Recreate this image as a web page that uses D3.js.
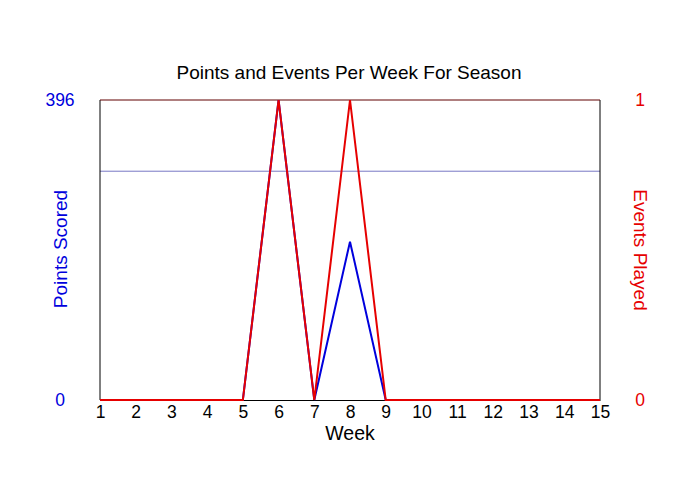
<!DOCTYPE html>
<html>
<head>
<meta charset="utf-8">
<script src="https://cdn.jsdelivr.net/npm/d3@7"></script>
<style>
  body { margin:0; background:#fff; }
  svg text { font-family: "Liberation Sans", Arial, sans-serif; }
</style>
</head>
<body>
<div id="chart"></div>
<script>
/* dual-axis weekly line chart */
const weeks  = [1,2,3,4,5,6,7,8,9,10,11,12,13,14,15];
const points = [0,0,0,0,0,396,0,209,0,0,0,0,0,0,0];
const events = [0,0,0,0,0,1,0,1,0,0,0,0,0,0,0];
const pointsTicks = [0,396];
const eventsTicks = [0,1];
const refLine = 302;   // horizontal reference on the points axis

const W = 700, H = 500, M = {top:100,right:100,bottom:100,left:100},
      IW = W-M.left-M.right, IH = H-M.top-M.bottom;

const BLUE = "#0000dd", RED = "#e60000";

const svg = d3.select("#chart").append("svg")
  .attr("width", W).attr("height", H);
const g = svg.append("g").attr("transform", `translate(${M.left},${M.top})`);

const x  = d3.scaleLinear().domain([1,15]).range([0,IW]);
const yL = d3.scaleLinear().domain([0,396]).range([IH,0]);
const yR = d3.scaleLinear().domain([0,1]).range([IH,0]);

// reference line
g.append("line")
  .attr("x1", 0).attr("x2", IW)
  .attr("y1", yL(refLine)).attr("y2", yL(refLine))
  .attr("stroke", "#7878c4").attr("stroke-width", 1);

// frame
g.append("line").attr("x1",0).attr("x2",0).attr("y1",0).attr("y2",IH).attr("stroke","#000");
g.append("line").attr("x1",IW).attr("x2",IW).attr("y1",0).attr("y2",IH).attr("stroke","#000");
g.append("line").attr("x1",0).attr("x2",IW).attr("y1",0).attr("y2",0).attr("stroke","#600000");

// x axis
const xAxis = g.append("g").attr("transform",`translate(0,${IH})`)
  .call(d3.axisBottom(x).tickValues(weeks).tickSize(0).tickPadding(4).tickFormat(d3.format("d")));
xAxis.select(".domain").attr("stroke","#000");
xAxis.selectAll("text").attr("font-size",17.5).attr("fill","#000").attr("dy","0.8em");

// left axis labels
g.selectAll("text.yl").data(pointsTicks).join("text").attr("class","yl")
  .attr("x",-40).attr("y",d=>yL(d)).attr("dy","0.35em")
  .attr("text-anchor","middle").attr("font-size",17.5).attr("fill",BLUE)
  .text(d=>d);

// right axis labels
g.selectAll("text.yr").data(eventsTicks).join("text").attr("class","yr")
  .attr("x",IW+40).attr("y",d=>yR(d)).attr("dy","0.35em")
  .attr("text-anchor","middle").attr("font-size",17.5).attr("fill",RED)
  .text(d=>d);

// lines
const ptsData = weeks.map((w,i)=>({w, v:points[i]}));
const evData  = weeks.map((w,i)=>({w, v:events[i]}));

g.append("path").datum(ptsData)
  .attr("fill","none").attr("stroke",BLUE).attr("stroke-width",2)
  .attr("d", d3.line().x(d=>x(d.w)).y(d=>yL(d.v)));
g.append("path").datum(evData)
  .attr("fill","none").attr("stroke",RED).attr("stroke-width",2)
  .attr("d", d3.line().x(d=>x(d.w)).y(d=>yR(d.v)));

// titles
svg.append("text").attr("x",349).attr("y",79).attr("text-anchor","middle")
  .attr("font-size",19).attr("fill","#000")
  .text("Points and Events Per Week For Season");
svg.append("text").attr("x",350).attr("y",440).attr("text-anchor","middle")
  .attr("font-size",19.5).attr("fill","#000").text("Week");
svg.append("text").attr("transform","translate(67,249) rotate(-90)")
  .attr("text-anchor","middle").attr("font-size",19).attr("fill",BLUE)
  .text("Points Scored");
svg.append("text").attr("transform","translate(634,250) rotate(90)")
  .attr("text-anchor","middle").attr("font-size",19).attr("fill",RED)
  .text("Events Played");
</script>
</body>
</html>
